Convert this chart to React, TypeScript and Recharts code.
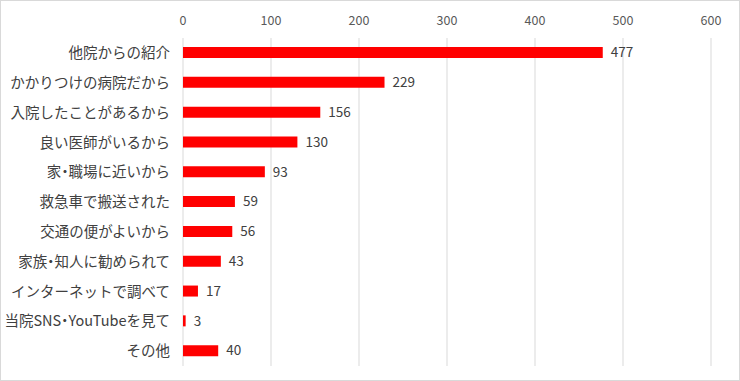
import React from 'react';
import { BarChart, Bar, XAxis, YAxis, CartesianGrid, LabelList } from 'recharts';

const categories = [
  '他院からの紹介',
  'かかりつけの病院だから',
  '入院したことがあるから',
  '良い医師がいるから',
  '家・職場に近いから',
  '救急車で搬送された',
  '交通の便がよいから',
  '家族・知人に勧められて',
  'インターネットで調べて',
  '当院SNS・YouTubeを見て',
  'その他',
];
const counts = [477, 229, 156, 130, 93, 59, 56, 43, 17, 3, 40];
const xTicks = [0, 100, 200, 300, 400, 500, 600];

const data = categories.map((name, i) => ({ name, value: counts[i] }));

const font = '"Noto Sans CJK JP", "Noto Sans", sans-serif';

// the middle dot is drawn half-width, as in the original
const CategoryTick = (props: any) => {
  const { x, y, payload } = props;
  const parts = String(payload.value).split('・');
  const spans: React.ReactNode[] = [];
  parts.forEach((p, i) => {
    if (i > 0) {
      spans.push(
        <tspan key={`d${i}`} style={{ fontFeatureSettings: '"halt" 1' }}>
          ・
        </tspan>
      );
    }
    spans.push(<tspan key={`p${i}`}>{p}</tspan>);
  });
  return (
    <text
      x={x}
      y={y}
      dy="0.36em"
      textAnchor="end"
      fill="#404040"
      fontSize={14.5}
      fontFamily={font}
    >
      {spans}
    </text>
  );
};

export default function App() {
  return (
    <div
      style={{
        position: 'absolute',
        left: 0,
        top: 0,
        width: 740,
        height: 381,
        background: '#fff',
        border: '1px solid #d9d9d9',
        boxSizing: 'border-box',
        fontFamily: font,
      }}
    >
      <BarChart
        width={738}
        height={379}
        data={data}
        layout="vertical"
        margin={{ top: 0, right: 28, bottom: 14, left: 0 }}
        barCategoryGap={0}
      >
        <CartesianGrid horizontal={false} stroke="#d9d9d9" />
        <XAxis
          type="number"
          orientation="top"
          domain={[0, 600]}
          ticks={xTicks}
          axisLine={false}
          tickLine={false}
          tickMargin={7}
          height={37}
          tick={{ fill: '#595959', fontSize: 12.5, fontFamily: font }}
        />
        <YAxis
          type="category"
          dataKey="name"
          width={182}
          axisLine={false}
          tickLine={false}
          tickMargin={7}
          tick={<CategoryTick />}
          interval={0}
        />
        <Bar dataKey="value" fill="#ff0000" barSize={11} isAnimationActive={false}>
          <LabelList dataKey="value" position="right" offset={8} fill="#404040" fontSize={13.5} fontFamily={font} />
        </Bar>
      </BarChart>
    </div>
  );
}
